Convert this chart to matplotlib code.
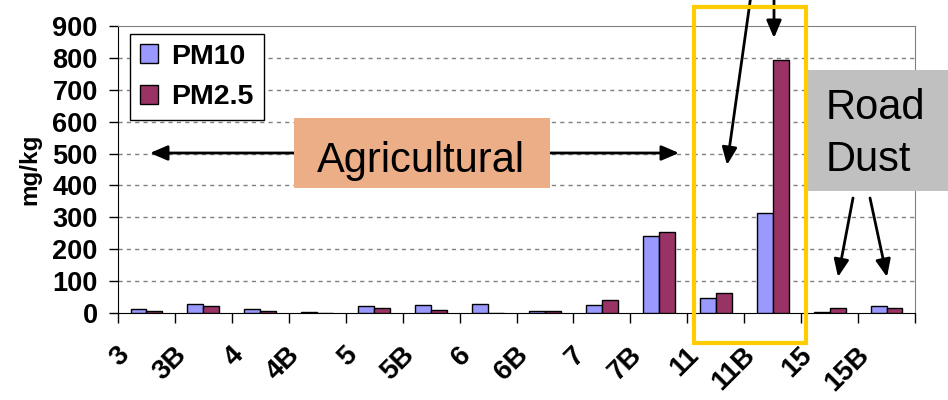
import numpy as np
import matplotlib
matplotlib.use('Agg')
import matplotlib.pyplot as plt
from matplotlib.patches import Rectangle
from matplotlib.transforms import ScaledTranslation

plt.rcParams['font.family'] = ['Liberation Sans', 'DejaVu Sans']

# data (mg/kg)
sites = ['3', '3B', '4', '4B', '5', '5B', '6', '6B', '7', '7B', '11', '11B', '15', '15B']
pm10 = [12, 27, 12, 4, 22, 25, 29, 5, 25, 240, 46, 313, 3, 23]
pm25 = [6, 21, 5, 0, 17, 10, 0, 5, 40, 255, 62, 793, 17, 17]

W, H = 948, 400
def fx(x):  # image pixel -> figure fraction
    return x / W
def fy(y):
    return 1 - y / H

fig = plt.figure(figsize=(9.48, 4), dpi=100)
ax = fig.add_axes([fx(118), fy(313), fx(915) - fx(118), fy(26) - fy(313)])

x = np.arange(len(sites))
bw = 0.28
ax.bar(x - bw / 2, pm10, bw, color='#9999FF', edgecolor='black', lw=1, label='PM10', zorder=3)
ax.bar(x + bw / 2, pm25, bw, color='#993366', edgecolor='black', lw=1, label='PM2.5', zorder=3)

ax.set_xlim(-0.5, len(sites) - 0.5)
ax.set_ylim(0, 900)
ax.set_yticks(np.arange(0, 901, 100))
for v in range(100, 900, 100):
    ax.axhline(v, color='#808080', lw=1, dashes=(3, 3), zorder=1)

# spines
for s in ['top', 'right']:
    ax.spines[s].set_color('#808080')
for s in ['left', 'bottom']:
    ax.spines[s].set_color('black')

ax.tick_params(axis='y', direction='out', length=6.5, width=1, pad=8, labelsize=19.5)
for t in ax.get_yticklabels():
    t.set_fontweight('bold')

# category labels in the middle, ticks on the boundaries
ax.set_xticks(x)
ax.set_xticklabels(sites, rotation=45, ha='right', va='top', fontsize=20, fontweight='bold')
ax.tick_params(axis='x', which='major', length=0, pad=21)
ax.set_xticks(np.arange(-0.5, len(sites), 1), minor=True)
ax.tick_params(axis='x', which='minor', length=7, width=1, color='black')
off = ScaledTranslation(-12 / 100, 0, fig.dpi_scale_trans)
for t in ax.get_xticklabels():
    t.set_transform(t.get_transform() + off)

fig.text(fx(30), fy(169), 'mg/kg', rotation=90, ha='center', va='center',
         fontsize=17.5, fontweight='bold')

ax.legend(loc='upper left', bbox_to_anchor=(fx(130), fy(34)), bbox_transform=fig.transFigure,
          borderaxespad=0, fancybox=False, edgecolor='black', framealpha=1,
          prop=dict(weight='bold', size=20.5), handlelength=0.65, handleheight=0.65,
          handletextpad=0.45, labelspacing=0.5, borderpad=0.35)

# Agricultural label and arrows
fig.add_artist(Rectangle((fx(294), fy(188)), fx(550) - fx(294), fy(118) - fy(188),
                         transform=fig.transFigure, facecolor='#EBAE87', edgecolor='none', zorder=4))
fig.text(fx(421), fy(172), 'Agricultural', ha='center', va='baseline', fontsize=30, zorder=5)

arrow = dict(arrowstyle='-|>,head_length=0.7,head_width=0.3', mutation_scale=15,
             lw=2, color='black', shrinkA=0, shrinkB=0)
def arr(x0, y0, x1, y1):
    ax.annotate('', xy=(fx(x1), fy(y1)), xytext=(fx(x0), fy(y0)),
                xycoords='figure fraction', textcoords='figure fraction',
                arrowprops=arrow, annotation_clip=False, zorder=6)

arr(294, 153, 150, 153)
arr(550, 153, 679, 153)

# Road Dust label and arrows
fig.add_artist(Rectangle((fx(808), fy(191)), fx(960) - fx(808), fy(70) - fy(191),
                         transform=fig.transFigure, facecolor='#C0C0C0', edgecolor='none', zorder=4))
fig.text(fx(826), fy(134), 'Road\nDust', ha='left', va='center', fontsize=30,
         linespacing=1.4, zorder=5)
arr(853, 198, 838, 277)
arr(870, 198, 887, 277)

# highlight box and arrows from above
fig.add_artist(Rectangle((fx(694), fy(343)), fx(806) - fx(694), fy(7) - fy(343),
                         transform=fig.transFigure, fill=False, edgecolor='#FFCC00', lw=3, zorder=5))
arr(751, -5, 727, 165)
arr(774, -5, 774, 38)

fig.savefig('out.png', dpi=100)
